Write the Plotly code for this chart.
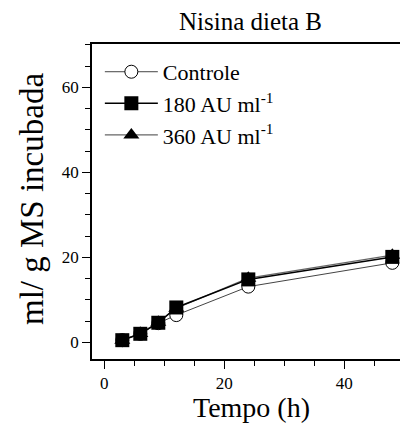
import plotly.graph_objects as go

tempo = [3, 6, 9, 12, 24, 48]
controle = [0.5, 2.0, 4.5, 6.4, 13.1, 18.7]
au180 = [0.5, 2.0, 4.6, 8.2, 14.8, 20.1]
au360 = [0.5, 2.1, 4.7, 8.0, 15.1, 20.5]

FONT = "Liberation Serif"

fig = go.Figure()
fig.add_trace(go.Scatter(
    x=tempo, y=controle, name="Controle", mode="lines+markers", legendrank=1,
    line=dict(color="#444444", width=1),
    marker=dict(symbol="circle", size=13, color="white", line=dict(color="black", width=1)),
))
fig.add_trace(go.Scatter(
    x=tempo, y=au360, name="360 AU ml<sup>-1</sup>", mode="lines+markers", legendrank=3,
    line=dict(color="#666666", width=1.2),
    marker=dict(symbol="triangle-up", size=14, color="black", line=dict(width=0)),
))
fig.add_trace(go.Scatter(
    x=tempo, y=au180, name="180 AU ml<sup>-1</sup>", mode="lines+markers", legendrank=2,
    line=dict(color="black", width=1.5),
    marker=dict(symbol="square", size=14, color="black", line=dict(width=0)),
))

axis_common = dict(
    showgrid=False, zeroline=False, showline=True, linecolor="black", linewidth=1.5,
    ticks="outside", ticklen=8, tickwidth=1, tickcolor="black",
    tickfont=dict(family=FONT, size=17, color="black"),
)
fig.update_xaxes(range=[-2.05, 49.28], tickvals=[0, 20, 40], mirror=True,
                 minor=dict(dtick=5, tick0=0, ticks="outside", ticklen=5, tickcolor="black"),
                 **axis_common)
fig.update_yaxes(range=[-3.93, 70.2], tickvals=[0, 20, 40, 60],
                 minor=dict(dtick=5, tick0=0, ticks="outside", ticklen=5, tickcolor="black"),
                 **axis_common)

fig.update_layout(
    width=400, height=434,
    margin=dict(l=92, r=0, t=44, b=75),
    paper_bgcolor="white", plot_bgcolor="white",
    font=dict(family=FONT, color="black"),
    showlegend=True,
    legend=dict(x=0.0255, y=0.978, xanchor="left", yanchor="top", bgcolor="rgba(0,0,0,0)",
                itemwidth=53,
                font=dict(family=FONT, size=22, color="black"), tracegroupgap=0),
    annotations=[
        dict(text="Nisina dieta B", xref="paper", yref="paper", x=(250-92)/308, y=1 + (44-21)/315,
             xanchor="center", yanchor="middle", showarrow=False, font=dict(family=FONT, size=25)),
        dict(text="Tempo (h)", xref="paper", yref="paper", x=(251-92)/308, y=-(408-359)/315,
             xanchor="center", yanchor="middle", showarrow=False, font=dict(family=FONT, size=28)),
        dict(text="ml/ g MS incubada", xref="paper", yref="paper", x=-(92-32)/308, y=(359-199)/315,
             xanchor="center", yanchor="middle", textangle=-90, showarrow=False, font=dict(family=FONT, size=33)),
    ],
)

fig.write_html("out.html")
